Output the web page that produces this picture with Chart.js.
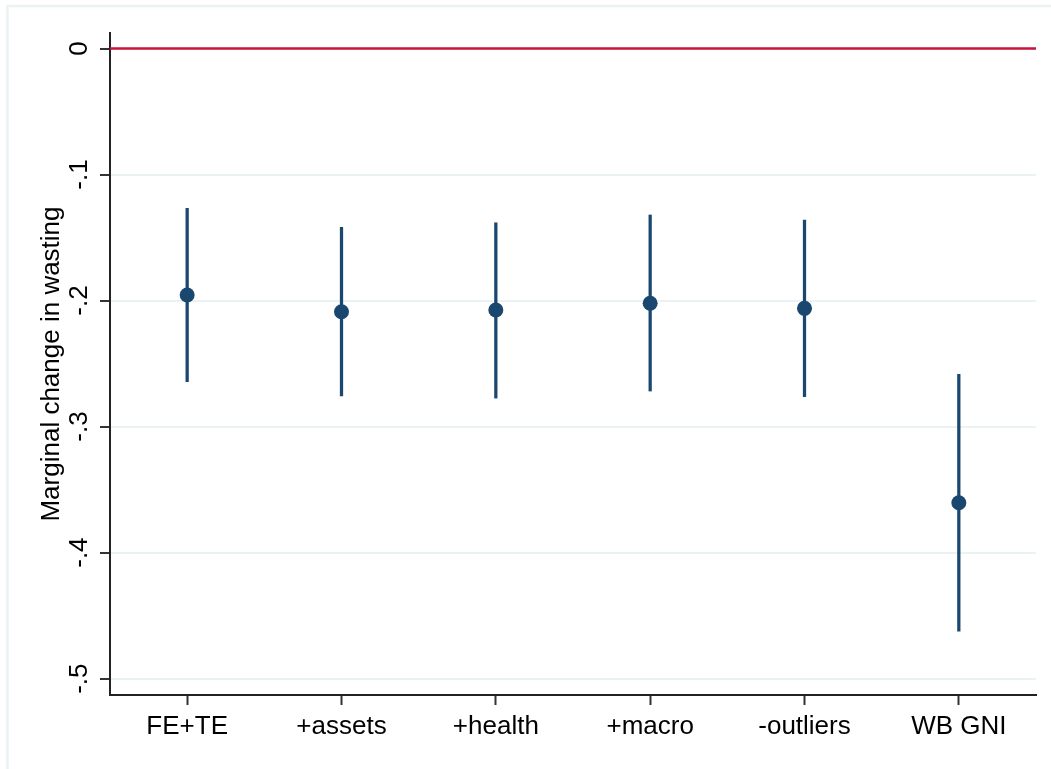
<!DOCTYPE html>
<html>
<head>
<meta charset="utf-8">
<title>Marginal change in wasting</title>
<script src="https://cdn.jsdelivr.net/npm/chart.js@4.4.1/dist/chart.umd.min.js"></script>
<style>
  html, body { margin: 0; padding: 0; background: #ffffff; }
  #wrap { width: 1051px; height: 769px; position: relative; }
</style>
</head>
<body>
<div id="wrap"><canvas id="chart" width="1051" height="769"></canvas></div>
<script>
// Model specifications
const categories = ['FE+TE', '+assets', '+health', '+macro', '-outliers', 'WB GNI'];
// Point estimates and 95% confidence bounds
const estimates = [-0.1956, -0.2089, -0.2075, -0.2022, -0.2062, -0.3605];
const ciUpper   = [-0.1268, -0.1419, -0.1383, -0.1321, -0.1361, -0.2586];
const ciLower   = [-0.2644, -0.2756, -0.2774, -0.2718, -0.2763, -0.4623];
// Y axis ticks and their labels
const yTickValues = [0, -0.1, -0.2, -0.3, -0.4, -0.5];
const yTickLabels = ['0', '-.1', '-.2', '-.3', '-.4', '-.5'];
const yRange = { min: -0.513, max: 0.0123 };
// Reference line
const refValue = 0;

const NAVY = '#1a476f';
const FONT = '"Liberation Sans", Arial, Helvetica, sans-serif';

const framePlugin = {
  id: 'frame',
  beforeDraw(chart) {
    const ctx = chart.ctx;
    ctx.save();
    ctx.fillStyle = '#ffffff';
    ctx.fillRect(0, 0, chart.width, chart.height);
    ctx.strokeStyle = '#eaf2f3';
    ctx.lineWidth = 2.5;
    ctx.beginPath();
    ctx.moveTo(7.5, chart.height);
    ctx.lineTo(7.5, 6);
    ctx.lineTo(chart.width, 6);
    ctx.stroke();
    ctx.restore();
  }
};

const refLinePlugin = {
  id: 'refLine',
  beforeDatasetsDraw(chart) {
    const { ctx, chartArea, scales } = chart;
    const y = scales.y.getPixelForValue(refValue);
    ctx.save();
    ctx.strokeStyle = '#c8133a';
    ctx.lineWidth = 2.6;
    ctx.beginPath();
    ctx.moveTo(chartArea.left, y);
    ctx.lineTo(chartArea.right, y);
    ctx.stroke();
    ctx.restore();
  }
};

new Chart(document.getElementById('chart'), {
  type: 'bar',
  data: {
    labels: categories,
    datasets: [
      {
        type: 'line',
        label: 'Estimate',
        data: estimates,
        showLine: false,
        pointRadius: 7.5,
        pointHoverRadius: 7.5,
        pointBackgroundColor: NAVY,
        pointBorderColor: NAVY,
        pointBorderWidth: 0,
        order: 0
      },
      {
        type: 'bar',
        label: '95% CI',
        data: ciLower.map((lo, i) => [lo, ciUpper[i]]),
        backgroundColor: NAVY,
        borderWidth: 0,
        barThickness: 2.6,
        grouped: false,
        order: 1
      }
    ]
  },
  options: {
    responsive: false,
    animation: false,
    devicePixelRatio: 1,
    layout: { padding: { left: 0, top: 33, right: 15, bottom: 0 } },
    plugins: {
      legend: { display: false },
      tooltip: { enabled: false }
    },
    scales: {
      x: {
        offset: true,
        grid: {
          display: true,
          offset: false,
          drawOnChartArea: false,
          drawTicks: true,
          tickLength: 10,
          tickColor: '#333333',
          tickWidth: 2
        },
        border: { display: true, color: '#222222', width: 2 },
        ticks: {
          color: '#000000',
          padding: 6,
          maxRotation: 0,
          minRotation: 0,
          font: { family: FONT, size: 26 }
        },
        afterFit(scale) { scale.height = 74; }
      },
      y: {
        min: yRange.min,
        max: yRange.max,
        afterBuildTicks(scale) {
          scale.ticks = yTickValues.map(v => ({ value: v }));
        },
        grid: {
          display: true,
          color: '#eaf2f3',
          lineWidth: 2,
          drawTicks: true,
          tickLength: 10,
          tickColor: '#333333',
          tickWidth: 2
        },
        border: { display: true, color: '#222222', width: 2 },
        ticks: {
          color: '#000000',
          padding: 5,
          minRotation: 90,
          maxRotation: 90,
          crossAlign: 'center',
          font: { family: FONT, size: 26 },
          callback(value) {
            const i = yTickValues.findIndex(v => Math.abs(v - value) < 1e-9);
            return i >= 0 ? yTickLabels[i] : '';
          }
        },
        title: {
          display: true,
          text: 'Marginal change in wasting',
          color: '#000000',
          font: { family: FONT, size: 26 },
          padding: { top: 36, bottom: 0 }
        },
        afterFit(scale) { scale.width = 110; }
      }
    }
  },
  plugins: [framePlugin, refLinePlugin]
});
</script>
</body>
</html>
